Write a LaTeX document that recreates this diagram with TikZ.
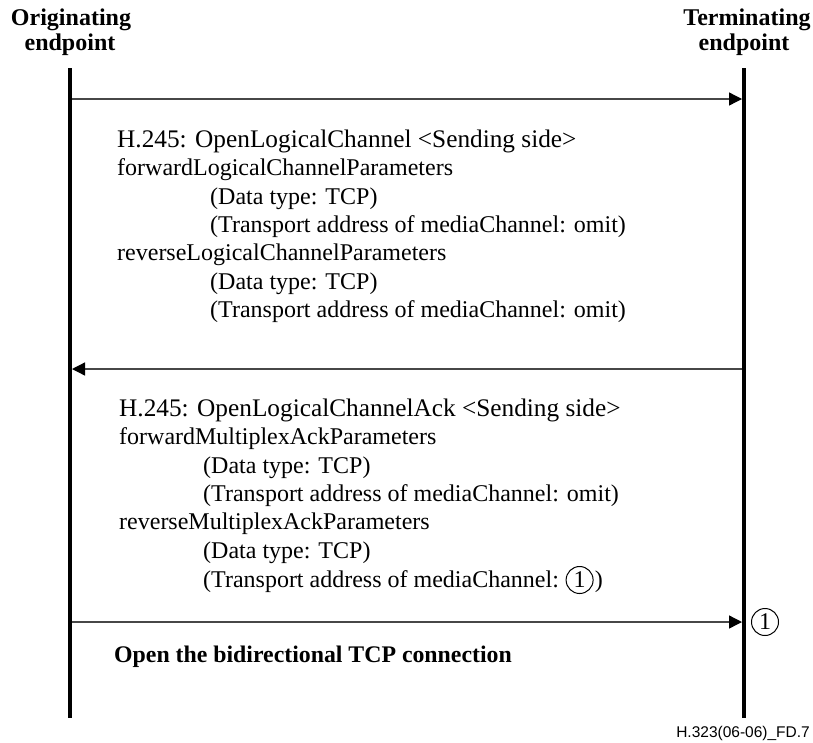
\documentclass[tikz,border=0pt]{standalone}
\usepackage{fontspec}
\setmainfont{Liberation Serif}
\setsansfont{Liberation Sans}
\usetikzlibrary{arrows.meta}
\begin{document}
\begin{tikzpicture}[x=1pt,y=-1pt,
  msg/.style={draw=black!72, line width=1.3pt, -{Triangle[length=13pt,width=13pt,color=black]}},
  life/.style={draw=black, line width=3.5pt},
  txt/.style={anchor=base west, inner sep=0pt, font=\fontsize{24}{28}\selectfont},
  big/.style={font=\fontsize{25.3}{28}\selectfont},
  hdr/.style={anchor=base, inner sep=0pt, font=\fontsize{24}{28}\selectfont\bfseries},
  circ/.style={circle, draw=black, line width=1pt, minimum size=27pt, inner sep=0pt, font=\fontsize{24}{26}\selectfont}]
\useasboundingbox (0,0) rectangle (813,742);

% headers
\node[hdr] (ho1) at (71,25) {Originating};
\node[hdr] (ho2) at (70,50) {endpoint};
\node[hdr] (ht1) at (747,25) {Terminating};
\node[hdr] (ht2) at (744,50) {endpoint};

% lifelines
\coordinate (Ltop) at (70,68);
\coordinate (Lbot) at (70,718);
\coordinate (Rtop) at (744,68);
\coordinate (Rbot) at (744,718);
\draw[life] (Ltop) -- (Lbot);
\draw[life] (Rtop) -- (Rbot);

% messages
\coordinate (m1s) at (72,99);
\coordinate (m1e) at (742,99);
\coordinate (m2s) at (742,369);
\coordinate (m2e) at (72,369);
\coordinate (m3s) at (72,622);
\coordinate (m3e) at (742,622);
\draw[msg] (m1s) -- (m1e);
\draw[msg] (m2s) -- (m2e);
\draw[msg] (m3s) -- (m3e);

% block 1
\node[txt, big] (a1) at (117,147) {H.245: OpenLogicalChannel <Sending side>};
\node[txt] (a2) at (117,175) {forwardLogicalChannelParameters};
\node[txt] (a3) at (210,204) {(Data type: TCP)};
\node[txt] (a4) at (210,232) {(Transport address of mediaChannel: omit)};
\node[txt] (a5) at (117,260) {reverseLogicalChannelParameters};
\node[txt] (a6) at (210,289) {(Data type: TCP)};
\node[txt] (a7) at (210,317) {(Transport address of mediaChannel: omit)};

% block 2
\node[txt, big] (b1) at (119,416) {H.245: OpenLogicalChannelAck <Sending side>};
\node[txt] (b2) at (119,444) {forwardMultiplexAckParameters};
\node[txt] (b3) at (203,473) {(Data type: TCP)};
\node[txt] (b4) at (203,501) {(Transport address of mediaChannel: omit)};
\node[txt] (b5) at (119,529) {reverseMultiplexAckParameters};
\node[txt] (b6) at (203,558) {(Data type: TCP)};
\node[txt] (b7) at (203,587) {(Transport address of mediaChannel:};
\node[circ] (c1) at ([xshift=20.5pt,yshift=7pt]b7.base east) {1};
\path (c1.east |- b7.base) coordinate (b7r);
\node[txt] (b8) at ([xshift=1pt]b7r) {)};

% marker on terminating side
\node[circ] (c2) at (765,622) {1};

% bottom text
\node[anchor=base west, inner sep=0pt, font=\fontsize{23.8}{28}\selectfont\bfseries] (open) at (114,662) {Open the bidirectional TCP connection};

% figure id
\node[anchor=base east, inner sep=0pt, font=\sffamily\fontsize{15.5}{18}\selectfont] (fig) at (810,737) {H.323(06-06)\_FD.7};
\end{tikzpicture}
\end{document}
